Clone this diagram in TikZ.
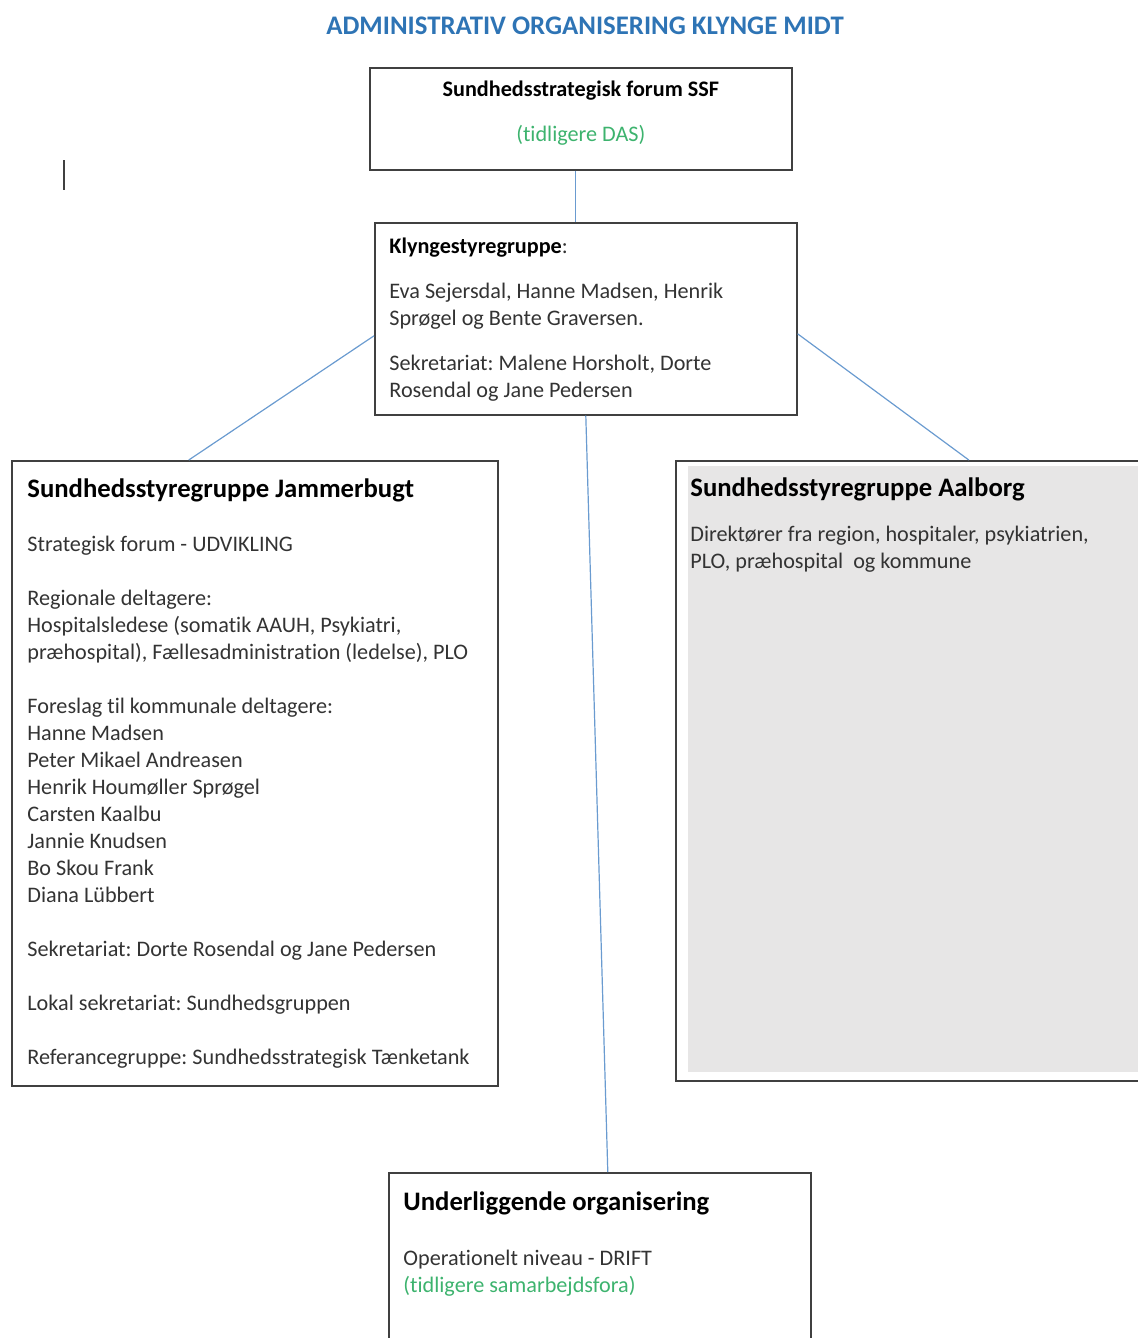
\documentclass[tikz,border=0pt]{standalone}
\usepackage{fontspec}
\setmainfont{Carlito}[Ligatures=NoCommon]
\usetikzlibrary{positioning,calc}
\frenchspacing

\definecolor{titleblue}{HTML}{2E74B5}
\definecolor{notegreen}{HTML}{3DB36E}
\definecolor{linkblue}{HTML}{6A9BD0}
\definecolor{boxgray}{HTML}{E7E6E6}
\definecolor{framegray}{HTML}{404040}
\definecolor{textgray}{HTML}{333333}

\begin{document}
\begin{tikzpicture}[x=0.5pt,y=-0.5pt,
    box/.style={draw=framegray,line width=0.8pt,inner sep=0pt,anchor=north west},
    txt/.style={anchor=north west,inner sep=0pt,align=left,text=textgray,
                font=\fontsize{11.1}{13.5}\selectfont},
    head/.style={anchor=north west,inner sep=0pt,text=black,
                font=\fontsize{13.35}{16}\selectfont\bfseries},
    link/.style={draw=linkblue,line width=0.6pt}]
      \useasboundingbox (0,0) rectangle (1138,1338);

      % title
      \node[inner sep=0pt,text=titleblue,font=\fontsize{13.4}{15}\selectfont\bfseries]
           (title) at (585,26) {ADMINISTRATIV ORGANISERING KLYNGE MIDT};

      % boxes
      \node[box,minimum width=211pt,minimum height=51pt]   (ssf)     at (369,67)   {};
      \node[box,minimum width=211pt,minimum height=96pt]   (klynge)  at (374,222)  {};
      \node[box,minimum width=243pt,minimum height=312.5pt] (jammer) at (11,460)   {};
      \node[box,minimum width=235pt,minimum height=310pt]  (aalborg) at (675,460)  {};
      \node[box,minimum width=211pt,minimum height=90pt]   (under)   at (388,1172) {};
      \fill[boxgray] (688,466) rectangle (1138,1072);

      % texts
      \node[txt,anchor=north,align=center] (ssftext) at ($(ssf.north)+(0,14)$)
           {\textbf{\color{black}Sundhedsstrategisk forum SSF}\\[9pt]
            \color{notegreen}(tidligere DAS)};
      \node[txt] (klyngetext) at ($(klynge.north west)+(15,16)$)
           {\textbf{\color{black}Klyngestyregruppe}:\\[9pt]
            Eva Sejersdal, Hanne Madsen, Henrik\\
            Sprøgel og Bente Graversen.\\[9pt]
            Sekretariat: Malene Horsholt, Dorte\\
            Rosendal og Jane Pedersen};
      \node[head] (jammerhead) at ($(jammer.north west)+(16,18)$) {Sundhedsstyregruppe Jammerbugt};
      \node[txt]  (jammertext) at ($(jammer.north west)+(16,76)$)
           {Strategisk forum - UDVIKLING\\[13.5pt]
            Regionale deltagere:\\
            Hospitalsledese (somatik AAUH, Psykiatri,\\
            præhospital), Fællesadministration (ledelse), PLO\\[13.5pt]
            Foreslag til kommunale deltagere:\\
            Hanne Madsen\\
            Peter Mikael Andreasen\\
            Henrik Houmøller Sprøgel\\
            Carsten Kaalbu\\
            Jannie Knudsen\\
            Bo Skou Frank\\
            Diana Lübbert\\[13.5pt]
            Sekretariat: Dorte Rosendal og Jane Pedersen\\[13.5pt]
            Lokal sekretariat: Sundhedsgruppen\\[13.5pt]
            Referancegruppe: Sundhedsstrategisk Tænketank};
      \node[head] (aalborghead) at ($(aalborg.north west)+(15,17)$) {Sundhedsstyregruppe Aalborg};
      \node[txt]  (aalborgtext) at ($(aalborg.north west)+(15,66)$)
           {Direktører fra region, hospitaler, psykiatrien,\\
            PLO, præhospital\ \ og kommune};
      \node[head] (underhead) at ($(under.north west)+(15,19)$) {Underliggende organisering};
      \node[txt]  (undertext) at ($(under.north west)+(15,78)$)
           {Operationelt niveau - DRIFT\\
            \color{notegreen}(tidligere samarbejdsfora)};

      % connectors
      \draw[link] ($(ssf.south)+(-5,0)$) -- ($(ssf.south |- klynge.north)+(-5,0)$);
      \draw[link] ($(klynge.west)+(0,17)$)  -- ($(jammer.north)+(-66,0)$);
      \draw[link] ($(klynge.east)+(0,15)$)  -- ($(aalborg.north)+(58,0)$);
      \draw[link] (klynge.south)            -- ($(under.north)+(8,0)$);

      % cursor mark
      \draw[framegray,line width=1pt] (64,160) -- (64,190);
\end{tikzpicture}
\end{document}
